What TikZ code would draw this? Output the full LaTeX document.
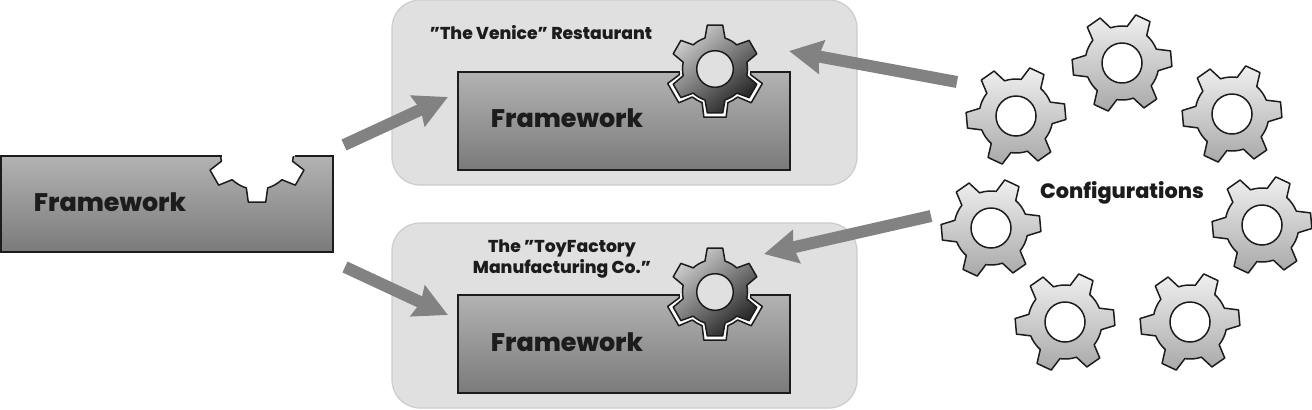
\documentclass[tikz,border=0pt]{standalone}
\usepackage{fontspec}
\setmainfont{Poppins}[BoldFont={Poppins ExtraBold}]
\usetikzlibrary{arrows.meta}
\definecolor{boxgray}{HTML}{E0E0E0}
\definecolor{boxedge}{HTML}{CCCCCC}
\definecolor{inkline}{HTML}{1C1C1C}
\definecolor{arrowgray}{HTML}{828282}
\tikzset{
  x=0.5pt,y=0.5pt,
  roundbox/.style={draw=boxedge,line width=0.6pt,fill=boxgray,rounded corners=14pt},
  framefill/.style={top color=black!30,bottom color=black!52},
  frameline/.style={draw=inkline,line width=0.9pt},
  gearline/.style={draw=inkline,line width=0.75pt,line join=round},
  lightgear/.style={gearline,top color=black!6,bottom color=black!34},
  darkgear/.style={gearline,top color=black!20,bottom color=black!86,shading angle=40},
  whitegear/.style={gearline,fill=white},
  bigarrow/.style={draw=arrowgray,line width=6pt,-{Stealth[inset=1.5pt,width=16.5pt,length=16.5pt]}},
  frametext/.style={font=\bfseries\fontsize{12.7}{15}\selectfont,text=inkline,inner sep=0pt},
  labeltext/.style={font=\bfseries\fontsize{8.6}{10.9}\selectfont,text=inkline,inner sep=0pt,align=center},
  % rotation / outer radius / root radius / hole radius / tip half angle / base half angle / gear style / hole style
  pics/gearwheel/.style n args={8}{code={
    \path[#7] ({#1-#6}:{#3})
      \foreach \k in {0,60,...,300}{
        -- ({#1+\k-#5}:{#2}) -- ({#1+\k+#5}:{#2}) -- ({#1+\k+#6}:{#3})
        arc[start angle={#1+\k+#6},end angle={#1+\k+60-#6},radius={#3}]
      } -- cycle;
    \path[gearline,#8] (0,0) circle[radius={#4}];
  }}
}
\begin{document}
\begin{tikzpicture}
\useasboundingbox (0,0) rectangle (1312,409);
% left framework
\shade[framefill] (1,157) rectangle (333,253);
\begin{scope}
  \clip (1,157) rectangle (333,253);
  \pic (notch) at (257,256) {gearwheel={30}{50}{36.5}{20}{10}{17}{whitegear}{draw=none}};
\end{scope}
\draw[frameline] (222,253) -- (1,253) -- (1,157) -- (333,157) -- (333,253) -- (295,253);
\node[frametext] (fwleft) at (110,207) {Framework};
% upper box
\draw[roundbox] (392,224) rectangle (857,409);
\node[frameline,framefill,minimum width=166pt,minimum height=49pt,inner sep=0pt,rectangle] (fwtop) at (624,288) {};
\node[labeltext] (venice) at (541,376) {"The Venice" Restaurant};
\node[frametext] (fwtoptext) at (567,291) {Framework};
\begin{scope}
  \clip (fwtop.south west) rectangle (fwtop.north east);
  \pic (halotop) at (715,340) {gearwheel={30}{49.5}{36}{20}{13}{21}{whitegear}{draw=none}};
\end{scope}
\pic (geartop) at (715,340) {gearwheel={30}{44.5}{32.5}{18.3}{10}{18}{darkgear}{fill=boxgray}};
% lower box
\draw[roundbox] (392,1) rectangle (857,186);
\node[frameline,framefill,minimum width=166pt,minimum height=49pt,inner sep=0pt,rectangle] (fwlow) at (624,65) {};
\node[labeltext] (toy) at (562,150) {The "ToyFactory\\Manufacturing Co."};
\node[frametext] (fwlowtext) at (567,67) {Framework};
\begin{scope}
  \clip (fwlow.south west) rectangle (fwlow.north east);
  \pic (halolow) at (715,117) {gearwheel={30}{49.5}{36}{20}{13}{21}{whitegear}{draw=none}};
\end{scope}
\pic (gearlow) at (715,117) {gearwheel={30}{44.5}{32.5}{18.3}{10}{18}{darkgear}{fill=boxgray}};
% configuration gears
\pic (c1) at (1016,293) {gearwheel={5}{50}{37}{20}{9}{17}{lightgear}{fill=white}};
\pic (c2) at (1122,346) {gearwheel={5}{50}{37}{20}{9}{17}{lightgear}{fill=white}};
\pic (c3) at (1232,295) {gearwheel={5}{50}{37}{20}{9}{17}{lightgear}{fill=white}};
\pic (c4) at (991,181) {gearwheel={5}{50}{37}{20}{9}{17}{lightgear}{fill=white}};
\pic (c5) at (1262,184) {gearwheel={5}{50}{37}{20}{9}{17}{lightgear}{fill=white}};
\pic (c6) at (1065,87) {gearwheel={5}{50}{37}{20}{9}{17}{lightgear}{fill=white}};
\pic (c7) at (1190,87) {gearwheel={5}{50}{37}{20}{9}{17}{lightgear}{fill=white}};
\node[frametext,font=\bfseries\fontsize{10.4}{14}\selectfont] (configs) at (1122,216) {Configurations};
% arrows
\coordinate (a1s) at (344,264); \coordinate (a1e) at (448,312);
\coordinate (a2s) at (345,142); \coordinate (a2e) at (448,94);
\coordinate (a3s) at (957,327); \coordinate (a3e) at (789,358);
\coordinate (a4s) at (931,193); \coordinate (a4e) at (764,155);
\draw[bigarrow] (a1s) -- (a1e);
\draw[bigarrow] (a2s) -- (a2e);
\draw[bigarrow] (a3s) -- (a3e);
\draw[bigarrow] (a4s) -- (a4e);
\end{tikzpicture}
\end{document}
